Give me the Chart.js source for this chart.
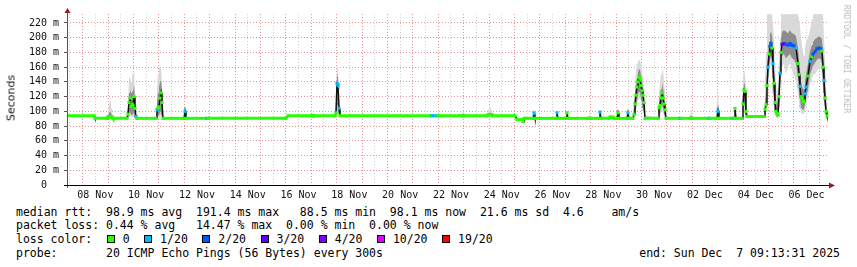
<!DOCTYPE html>
<html>
<head>
<meta charset="utf-8">
<script src="https://cdn.jsdelivr.net/npm/chart.js@4.4.1/dist/chart.umd.min.js"></script>
<style>
body{margin:0;background:#fff;}
#wrap{position:relative;width:857px;height:267px;overflow:hidden;font-family:"DejaVu Sans Mono",monospace;color:#000;}
#c{position:absolute;left:0;top:0;}
.ytitle{position:absolute;left:11px;top:98px;transform:translate(-50%,-50%) rotate(-90deg);font:11px "DejaVu Sans",sans-serif;color:#111;white-space:nowrap;}
.brand{position:absolute;left:847px;top:59px;transform:translate(-50%,-50%) rotate(90deg);font-size:8.2px;color:#bbb;white-space:nowrap;}
.ln{position:absolute;left:16px;font-size:11.5px;line-height:14px;white-space:pre;}
.legend{display:flex;align-items:center;}
.legend .box{width:6px;height:6px;border:1px solid #000;margin-left:14.5px;margin-right:8px;}
.end{position:absolute;right:17px;font-size:11.5px;line-height:14px;white-space:pre;}
</style>
</head>
<body>
<div id="wrap">
<canvas id="c" width="857" height="200"></canvas>
<div class="ytitle">Seconds</div>
<div class="brand">RRDTOOL / TOBI OETIKER</div>
<div class="ln" style="top:205px">median rtt:  98.9 ms avg  191.4 ms max   88.5 ms min  98.1 ms now  21.6 ms sd  4.6    am/s</div>
<div class="ln" style="top:218px">packet loss: 0.44 % avg   14.47 % max  0.00 % min  0.00 % now</div>
<div class="ln legend" id="legend" style="top:232px">loss color:</div>
<div class="ln" style="top:246px">probe:       20 ICMP Echo Pings (56 Bytes) every 300s</div>
<div class="end" style="top:246px">end: Sun Dec  7 09:13:31 2025</div>
</div>
<script>
// time axis: days since 07 Nov 00:00, graph covers 07 Nov 09:13 .. 07 Dec 09:13
const days = [
  0.384, 1.447, 1.486, 1.959, 1.998, 2.077, 2.156, 2.195, 2.746,
  2.785, 2.825, 2.864, 2.904, 2.943, 2.982, 3.022, 3.061, 3.100, 3.140,
  3.888, 3.927, 3.967, 4.006, 4.045, 4.085, 4.124, 4.163,
  4.990, 5.030, 5.069, 5.896, 5.935, 9.006, 9.085, 10.030, 10.069, 10.108,
  10.935, 10.974, 11.014, 11.053, 11.093, 11.132,
  14.715, 14.754, 14.951, 14.990, 15.030, 15.935, 15.974, 16.014, 16.919, 16.959, 17.037, 17.116, 17.156,
  18.022, 18.100, 18.297, 18.337, 18.376, 18.730, 18.770, 18.809,
  19.636, 19.675, 19.715, 20.030, 20.069, 20.109, 20.896, 20.935, 20.974, 21.329, 21.368, 21.407,
  21.722, 21.762, 21.880, 21.919, 22.037, 22.077, 22.116, 22.431, 22.470, 22.510,
  22.667, 22.707, 22.746, 22.785, 22.825, 22.864, 22.904, 22.943, 22.982, 23.022, 23.061, 23.100, 23.140,
  23.652, 23.691, 23.730, 23.770, 23.809, 23.848, 23.888, 23.927, 23.967,
  24.518, 24.557, 24.911, 24.951, 24.990, 25.659, 25.699, 25.935, 25.974, 26.014, 26.053, 26.604, 26.644, 26.683, 26.722,
  26.959, 26.998, 27.037, 27.077, 27.116, 27.156, 27.825,
  27.864, 27.904, 27.943, 27.982, 28.022, 28.061, 28.100, 28.140, 28.179, 28.219, 28.258, 28.297, 28.337, 28.376,
  28.415, 28.455, 28.494, 28.533, 28.612, 28.691, 28.770, 28.848, 28.927, 29.006, 29.085,
  29.163, 29.203, 29.242, 29.281, 29.321, 29.360, 29.400, 29.439, 29.478, 29.557,
  29.636, 29.715, 29.754, 29.833, 29.911, 29.990, 30.069, 30.108, 30.148, 30.187, 30.226, 30.266, 30.305
];
// median rtt (ms)
const median = [
  94, 94, 90.5, 90.5, 92.5, 92.5, 92.5, 90.5, 90.5,
  96, 112, 118, 107, 110, 108, 120, 104, 93, 90.5,
  90.5, 102, 105, 106, 118, 125, 112, 90.5,
  90.5, 100, 90.5, 90.5, 90.5, 90.5, 94, 94, 94, 94,
  94, 98, 138, 136, 104, 94,
  94, 94, 94, 94, 94, 94, 94, 94, 94, 95.5, 95.5, 95.5, 94,
  94, 89, 89, 86, 90.5, 90.5, 97, 90.5,
  90.5, 98, 90.5, 90.5, 98, 90.5, 90.5, 90.5, 90.5, 90.5, 99, 90.5,
  90.5, 92, 92, 90.5, 90.5, 98, 90.5, 90.5, 98, 90.5,
  90.5, 96, 110, 122, 133, 140, 147, 145, 135, 128, 122, 112, 90.5,
  90.5, 105, 108, 118, 125, 118, 110, 102, 90.5,
  90.5, 90.5, 90.5, 90.5, 90.5, 90.5, 90.5, 90.5, 90.5, 100, 90.5, 90.5, 90.5, 104, 90.5,
  90.5, 110, 129, 127, 100, 93, 93,
  103, 109, 135, 160, 178, 188, 192, 186, 165, 138, 112, 100, 97, 96,
  120, 152, 180, 191, 192, 191, 190, 192, 190, 189, 186,
  165, 150, 134, 120, 117, 113, 114, 124, 133, 148,
  168, 174, 178, 181, 185, 186, 185, 182, 160, 142, 118, 100, 94
];
// loss class per step (index into lossLabels)
const lossIdx = [
  0, 0, 0, 0, 0, 0, 0, 0, 0,
  0, 0, 0, 0, 0, 0, 0, 0, 1, 0,
  0, 1, 0, 0, 0, 0, 0, 0,
  0, 1, 0, 1, 0, 0, 0, 0, 0, 0,
  0, 0, 1, 1, 1, 0,
  0, 1, 1, 0, 0, 0, 0, 0, 0, 0, 0, 0, 0,
  0, 0, 0, 0, 0, 0, 1, 0,
  0, 1, 0, 0, 0, 0, 0, 0, 0, 0, 1, 0,
  0, 0, 0, 0, 0, 0, 0, 0, 1, 0,
  0, 0, 0, 0, 0, 0, 0, 0, 0, 0, 0, 0, 0,
  0, 0, 0, 0, 0, 0, 0, 0, 0,
  1, 0, 0, 0, 0, 1, 0, 0, 0, 1, 0, 1, 0, 0, 0,
  0, 0, 0, 0, 0, 0, 0,
  0, 0, 0, 1, 0, 2, 2, 0, 1, 0, 0, 0, 0, 0,
  0, 1, 0, 3, 3, 2, 2, 2, 2, 2, 1,
  0, 0, 1, 0, 0, 0, 0, 1, 1, 0,
  1, 0, 2, 2, 2, 2, 2, 0, 0, 1, 0, 0, 0
];
// smoke: slowest ping
const smokeMax = [
  95, 95, 91.5, 92, 100, 118, 100, 91.5, 91.5,
  110, 145, 150, 140, 153, 148, 155, 130, 98, 91.5,
  91.5, 130, 150, 158, 162, 160, 140, 92,
  91.5, 102, 91.5, 91.5, 91.5, 91.5, 95, 95, 101, 95,
  95, 110, 163, 160, 120, 95,
  95, 95, 95, 102, 95, 95, 104, 95, 95, 100, 106, 100, 95,
  95, 90, 90, 89, 91.5, 91.5, 100, 91.5,
  91.5, 100, 91.5, 91.5, 100, 91.5, 91.5, 100, 91.5, 91.5, 102, 91.5,
  91.5, 96, 93, 91.5, 91.5, 100, 91.5, 91.5, 101, 91.5,
  91.5, 120, 140, 155, 165, 168, 170, 168, 165, 155, 145, 130, 95,
  91.5, 125, 140, 150, 156, 155, 140, 125, 91.5,
  91.5, 91.5, 91.5, 108, 91.5, 91.5, 91.5, 91.5, 115, 136, 91.5, 91.5, 91.5, 110, 91.5,
  91.5, 140, 159, 150, 120, 95, 94,
  140, 180, 232, 232, 232, 232, 232, 232, 232, 200, 160, 140, 120, 120,
  160, 200, 232, 232, 232, 232, 232, 232, 232, 232, 232,
  232, 225, 215, 200, 190, 180, 175, 185, 195, 200,
  210, 225, 232, 232, 232, 232, 232, 232, 232, 200, 170, 140, 100
];
// smoke: dense upper part
const smokeHi = [
  94.5, 94.5, 91, 91, 94, 100, 94, 91, 91,
  100, 125, 130, 125, 128, 126, 135, 115, 95, 91,
  91, 112, 125, 132, 140, 142, 125, 91,
  91, 101, 91, 91, 91, 91, 94.5, 94.5, 96, 94.5,
  94.5, 102, 150, 145, 110, 94.5,
  94.5, 94.5, 94.5, 96, 94.5, 94.5, 96, 94.5, 94.5, 97, 98, 97, 94.5,
  94.5, 89.5, 89.5, 87, 91, 91, 98, 91,
  91, 99, 91, 91, 99, 91, 91, 93, 91, 91, 100, 91,
  91, 93, 92.5, 91, 91, 99, 91, 91, 99, 91,
  91, 105, 120, 132, 145, 152, 158, 156, 148, 140, 132, 120, 92,
  91, 112, 120, 130, 138, 132, 122, 110, 91,
  91, 91, 91, 95, 91, 91, 91, 91, 95, 110, 91, 91, 91, 106, 91,
  91, 120, 140, 135, 108, 94, 93.5,
  112, 125, 155, 178, 195, 205, 208, 202, 185, 158, 130, 115, 108, 108,
  135, 170, 198, 208, 210, 208, 206, 210, 206, 205, 202,
  185, 170, 155, 140, 135, 130, 130, 140, 150, 165,
  182, 190, 194, 198, 200, 202, 200, 198, 180, 160, 135, 115, 96
];
// smoke: dense lower part
const smokeLo = [
  93.5, 93.5, 90, 90, 91, 91, 91, 90, 90,
  91, 95, 100, 95, 96, 95, 100, 93, 91, 90,
  90, 93, 95, 95, 98, 100, 95, 90,
  90, 92, 90, 90, 90, 90, 93.5, 93.5, 93.5, 93.5,
  93.5, 94, 110, 108, 95, 93.5,
  93.5, 93.5, 93.5, 93.5, 93.5, 93.5, 93.5, 93.5, 93.5, 95, 95, 95, 93.5,
  93.5, 88.5, 88.5, 85.5, 90, 90, 91, 90,
  90, 91, 90, 90, 91, 90, 90, 90, 90, 90, 91, 90,
  90, 91, 91.5, 90, 90, 91, 90, 90, 91, 90,
  90, 91, 97, 105, 115, 122, 128, 126, 118, 112, 105, 98, 90,
  90, 95, 98, 105, 110, 105, 100, 95, 90,
  90, 90, 90, 90, 90, 90, 90, 90, 90, 92, 90, 90, 90, 92, 90,
  90, 97, 110, 108, 94, 92, 92.5,
  96, 100, 118, 140, 160, 170, 175, 168, 145, 120, 100, 94, 92, 92,
  100, 130, 160, 175, 178, 172, 175, 178, 172, 170, 165,
  145, 130, 118, 105, 104, 102, 103, 110, 118, 130,
  150, 158, 162, 166, 170, 172, 170, 165, 140, 125, 105, 94, 92
];
// smoke: fastest ping
const smokeMin = [
  93, 93, 89.5, 89.5, 90, 90, 90, 89.5, 89.5,
  90, 91, 93, 92, 92, 92, 93, 91, 89.5, 89.5,
  89.5, 91, 91, 91, 92, 93, 91, 89.5,
  89.5, 90, 89.5, 89.5, 89.5, 89.5, 93, 93, 93, 93,
  93, 93, 95, 95, 93, 93,
  93, 93, 93, 93, 93, 93, 93, 93, 93, 94, 94, 94, 93,
  93, 88, 88, 85, 89.5, 89.5, 90, 89.5,
  89.5, 90, 89.5, 89.5, 90, 89.5, 89.5, 89.5, 89.5, 89.5, 90, 89.5,
  89.5, 90, 91, 89.5, 89.5, 90, 89.5, 89.5, 90, 89.5,
  89.5, 90, 95, 100, 108, 115, 118, 118, 112, 105, 100, 95, 89.5,
  89.5, 92, 94, 98, 102, 98, 95, 92, 89.5,
  89.5, 89.5, 89.5, 89.5, 89.5, 89.5, 89.5, 89.5, 89.5, 90, 89.5, 89.5, 89.5, 90, 89.5,
  89.5, 92, 100, 98, 91, 91.5, 92,
  93, 96, 110, 130, 150, 160, 165, 150, 125, 110, 98, 92, 90, 90,
  95, 115, 140, 160, 165, 150, 160, 165, 155, 150, 140,
  125, 115, 105, 98, 97, 96, 97, 100, 108, 120,
  135, 145, 150, 150, 155, 160, 158, 150, 130, 115, 100, 92, 90
];

const lossLabels = ['0', '1/20', '2/20', '3/20', '4/20', '10/20', '19/20'];
const lossColors = ['#26ff00', '#00b8ff', '#0059ff', '#5e00ff', '#7e00ff', '#dd00ff', '#ff0000'];

const xTickDays = [1.5, 3.5, 5.5, 7.5, 9.5, 11.5, 13.5, 15.5, 17.5, 19.5, 21.5, 23.5, 25.5, 27.5, 29.5];
const xTickLabels = ['08 Nov', '10 Nov', '12 Nov', '14 Nov', '16 Nov', '18 Nov', '20 Nov', '22 Nov',
  '24 Nov', '26 Nov', '28 Nov', '30 Nov', '02 Dec', '04 Dec', '06 Dec'];
const yGridMs = [0, 10, 20, 30, 40, 50, 60, 70, 80, 90, 100, 110, 120, 130, 140, 150, 160, 170, 180, 190, 200, 210, 220, 230];

// legend boxes
const legendEl = document.getElementById('legend');
lossLabels.forEach((l, i) => {
  const b = document.createElement('span');
  b.className = 'box';
  b.style.background = lossColors[i];
  const t = document.createElement('span');
  t.textContent = l;
  legendEl.appendChild(b);
  legendEl.appendChild(t);
});

const xGridDays = [];
for (let d = 0.5; d <= 30; d += 0.5) xGridDays.push(d);

const majorGrid = 'rgba(225,120,120,0.8)';
const minorGrid = '#cfcfcf';
const pts = arr => days.map((d, i) => ({x: d, y: arr[i]}));

// axis lines + little red arrows like rrdtool
const axisArrows = {
  id: 'axisArrows',
  afterDraw(chart) {
    const c = chart.ctx, a = chart.chartArea;
    c.save();
    c.lineWidth = 1;
    c.strokeStyle = '#555';
    c.beginPath(); c.moveTo(a.left + 0.5, a.bottom + 3); c.lineTo(a.left + 0.5, a.top - 4); c.stroke();
    c.strokeStyle = '#000';
    c.beginPath(); c.moveTo(a.left - 3, a.bottom + 0.5); c.lineTo(a.right + 1, a.bottom + 0.5); c.stroke();
    c.fillStyle = '#9b1c1c';
    c.beginPath(); c.moveTo(a.left - 2.5, a.top - 1); c.lineTo(a.left + 3.5, a.top - 1); c.lineTo(a.left + 0.5, a.top - 6); c.closePath(); c.fill();
    c.beginPath(); c.moveTo(a.right, a.bottom - 2.5); c.lineTo(a.right, a.bottom + 3.5); c.lineTo(a.right + 6, a.bottom + 0.5); c.closePath(); c.fill();
    c.restore();
  }
};

const clear = 'rgba(0,0,0,0)';
new Chart(document.getElementById('c'), {
  type: 'line',
  data: {
    datasets: [
      {label: 'median (loss color)', data: pts(median), borderWidth: 3, borderColor: lossColors[0],
        segment: {borderColor: s => Math.abs(s.p0.parsed.y - s.p1.parsed.y) < 3 ? lossColors[lossIdx[s.p0DataIndex]] : clear},
        pointStyle: 'rect', pointRadius: 2.2, pointBorderWidth: 0,
        pointBackgroundColor: s => lossColors[lossIdx[s.dataIndex]], fill: false, order: 0},
      {label: 'median', data: pts(median), borderWidth: 1.5, borderColor: '#111', pointRadius: 0, fill: false, order: 1},
      {label: 'smoke hi', data: pts(smokeHi), borderWidth: 0, borderColor: clear, pointRadius: 0, backgroundColor: '#8c8c8c', fill: 3, order: 2},
      {label: 'smoke lo', data: pts(smokeLo), borderWidth: 0, borderColor: clear, pointRadius: 0, fill: false, order: 3},
      {label: 'smoke max', data: pts(smokeMax), borderWidth: 0, borderColor: clear, pointRadius: 0, backgroundColor: '#d9d9d9', fill: 5, order: 4},
      {label: 'smoke min', data: pts(smokeMin), borderWidth: 0, borderColor: clear, pointRadius: 0, fill: false, order: 5}
    ]
  },
  options: {
    responsive: false,
    animation: false,
    devicePixelRatio: 1,
    events: [],
    layout: {padding: {left: 0, right: 28, top: 14, bottom: 0}},
    elements: {line: {tension: 0}},
    plugins: {legend: {display: false}, tooltip: {enabled: false}},
    scales: {
      x: {
        type: 'linear', min: 0.384, max: 30.384,
        afterBuildTicks: s => { s.ticks = xGridDays.map(v => ({value: v})); },
        afterFit: s => { s.height = 15; },
        border: {display: false, dash: [1, 2]},
        grid: {drawTicks: false, color: c => (c.tick && c.tick.value % 1 === 0) ? majorGrid : minorGrid},
        ticks: {autoSkip: false, maxRotation: 0, padding: 4, color: '#111',
          font: {family: 'DejaVu Sans Mono', size: 10},
          callback: v => { const i = xTickDays.indexOf(v); return i < 0 ? '' : xTickLabels[i]; }}
      },
      y: {
        min: 0, max: 232.2,
        afterBuildTicks: s => { s.ticks = yGridMs.map(v => ({value: v})); },
        afterFit: s => { s.width = 67; },
        border: {display: false, dash: [1, 2]},
        grid: {
          color: c => c.tick.value === 0 ? clear : (c.tick.value % 20 === 0 ? majorGrid : minorGrid),
          tickLength: 3,
          tickColor: c => c.tick.value % 20 === 0 ? '#555' : clear
        },
        ticks: {padding: 5, color: '#111', font: {family: 'DejaVu Sans Mono', size: 10},
          callback: v => v === 0 ? '0  ' : (v % 20 === 0 ? v + ' m' : '')}
      }
    }
  },
  plugins: [axisArrows]
});
</script>
</body>
</html>
